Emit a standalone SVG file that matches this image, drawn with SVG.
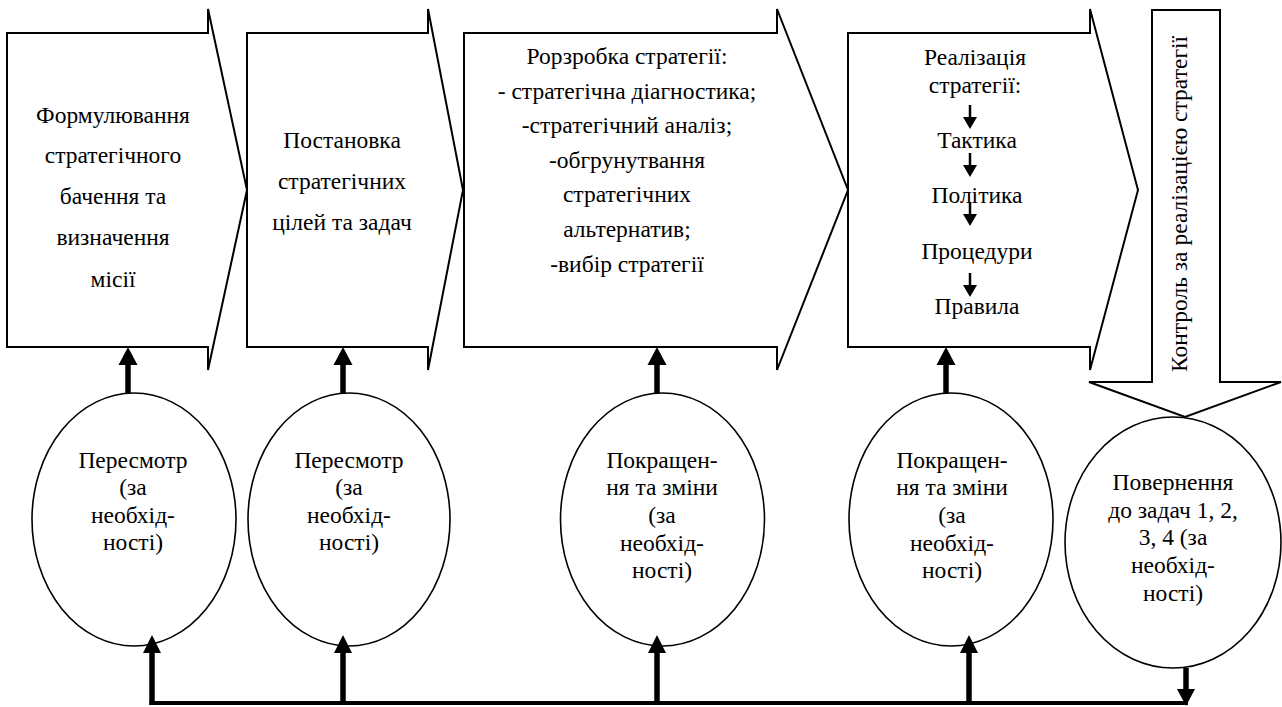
<svg xmlns="http://www.w3.org/2000/svg" width="1282" height="707" viewBox="0 0 1282 707">
<style>
.shape{fill:#fff;stroke:#000;stroke-width:2;stroke-linejoin:miter}
.ell{fill:#fff;stroke:#000;stroke-width:1.6}
.t{font-family:"Liberation Serif","Times New Roman",serif;font-size:23.5px;fill:#000;text-anchor:middle}
.thick{stroke:#000;stroke-width:5.5;fill:none}
.thin{stroke:#000;stroke-width:2.5;fill:none}
.head{fill:#000;stroke:none}
.line{stroke:#000;stroke-width:4;fill:none}
</style>
<rect width="1282" height="707" fill="#fff"/>
<g id="node-formulation">
<polygon class="shape" points="7,33 208,33 208,9 247,190 208,370 208,347 7,347"/>
<text class="t" x="113" y="123">Формулювання</text>
<text class="t" x="113" y="163">стратегічного</text>
<text class="t" x="113" y="204">бачення та</text>
<text class="t" x="113" y="245">визначення</text>
<text class="t" x="113" y="287">місії</text>
</g>
<g id="node-goals">
<polygon class="shape" points="247,33 428,33 428,9 463,190 428,370 428,347 247,347"/>
<text class="t" x="342" y="148">Постановка</text>
<text class="t" x="342" y="189">стратегічних</text>
<text class="t" x="342" y="230">цілей та задач</text>
</g>
<g id="node-development">
<polygon class="shape" points="464,33 777,33 777,9 848,190 777,370 777,347 464,347"/>
<text class="t" x="627" y="64">Рорзробка стратегії:</text>
<text class="t" x="627" y="99">- стратегічна діагностика;</text>
<text class="t" x="627" y="133">-стратегічний аналіз;</text>
<text class="t" x="627" y="168">-обгрунутвання</text>
<text class="t" x="627" y="202">стратегічних</text>
<text class="t" x="627" y="237">альтернатив;</text>
<text class="t" x="627" y="272">-вибір стратегії</text>
</g>
<g id="node-implementation">
<polygon class="shape" points="848,33 1090,33 1090,9 1138,190 1090,370 1090,347 848,347"/>
<text class="t" x="975" y="65">Реалізація</text>
<text class="t" x="975" y="93">стратегії:</text>
<text class="t" x="977" y="148">Тактика</text>
<text class="t" x="977" y="203">Політика</text>
<text class="t" x="977" y="259">Процедури</text>
<text class="t" x="977" y="314">Правила</text>
<g id="inner-arrows">
<line class="thin" x1="970" y1="105" x2="970" y2="118"/>
<polygon class="head" points="963,117 977,117 970,129"/>
<line class="thin" x1="970" y1="153" x2="970" y2="166"/>
<polygon class="head" points="963,165 977,165 970,177"/>
<line class="thin" x1="970" y1="202" x2="970" y2="215"/>
<polygon class="head" points="963,214 977,214 970,226"/>
<line class="thin" x1="970" y1="273" x2="970" y2="286"/>
<polygon class="head" points="963,285 977,285 970,297"/>
</g>
</g>
<g id="node-control">
<polygon class="shape" points="1152,10 1220,10 1220,382 1281,382 1185,417 1089,382 1152,382"/>
<text class="t" transform="translate(1187,204) rotate(-90)" x="0" y="0">Контроль за реалізацією стратегії</text>
</g>
<g id="node-review1">
<ellipse class="ell" cx="134" cy="519.5" rx="102" ry="126.5"/>
<text class="t" x="133" y="468">Пересмотр</text>
<text class="t" x="133" y="495">(за</text>
<text class="t" x="133" y="523">необхід-</text>
<text class="t" x="133" y="550">ності)</text>
</g>
<g id="node-review2">
<ellipse class="ell" cx="349" cy="519.5" rx="101" ry="126.5"/>
<text class="t" x="349" y="468">Пересмотр</text>
<text class="t" x="349" y="495">(за</text>
<text class="t" x="349" y="523">необхід-</text>
<text class="t" x="349" y="550">ності)</text>
</g>
<g id="node-improve3">
<ellipse class="ell" cx="662.5" cy="519.5" rx="102" ry="126.5"/>
<text class="t" x="662" y="468">Покращен-</text>
<text class="t" x="662" y="495">ня та зміни</text>
<text class="t" x="662" y="523">(за</text>
<text class="t" x="662" y="551">необхід-</text>
<text class="t" x="662" y="578">ності)</text>
</g>
<g id="node-improve4">
<ellipse class="ell" cx="951" cy="519.5" rx="102" ry="126.5"/>
<text class="t" x="952" y="468">Покращен-</text>
<text class="t" x="952" y="495">ня та зміни</text>
<text class="t" x="952" y="523">(за</text>
<text class="t" x="952" y="551">необхід-</text>
<text class="t" x="952" y="578">ності)</text>
</g>
<g id="node-return">
<ellipse class="ell" cx="1173" cy="542.5" rx="108" ry="125.5"/>
<text class="t" x="1173" y="490">Повернення</text>
<text class="t" x="1173" y="518">до задач 1, 2,</text>
<text class="t" x="1173" y="545">3, 4 (за</text>
<text class="t" x="1173" y="573">необхід-</text>
<text class="t" x="1173" y="601">ності)</text>
</g>
<g id="connectors">
<line class="thick" x1="128" y1="393" x2="128" y2="364"/>
<polygon class="head" points="118.5,365 137.5,365 128,347"/>
<line class="thick" x1="343" y1="393" x2="343" y2="364"/>
<polygon class="head" points="333.5,365 352.5,365 343,347"/>
<line class="thick" x1="657" y1="393" x2="657" y2="364"/>
<polygon class="head" points="647.5,365 666.5,365 657,347"/>
<line class="thick" x1="946" y1="393" x2="946" y2="364"/>
<polygon class="head" points="936.5,365 955.5,365 946,347"/>
<line class="line" x1="149.5" y1="703" x2="1188" y2="703"/>
<line class="thick" x1="152" y1="705" x2="152" y2="652"/>
<polygon class="head" points="143,653 161,653 152,635"/>
<line class="thick" x1="343" y1="705" x2="343" y2="652"/>
<polygon class="head" points="334,653 352,653 343,635"/>
<line class="thick" x1="657" y1="705" x2="657" y2="652"/>
<polygon class="head" points="648,653 666,653 657,635"/>
<line class="thick" x1="969" y1="705" x2="969" y2="652"/>
<polygon class="head" points="960,653 978,653 969,635"/>
<line class="thick" x1="1186" y1="668" x2="1186" y2="690"/>
<polygon class="head" points="1177,689 1195,689 1186,706"/>
</g>
</svg>
